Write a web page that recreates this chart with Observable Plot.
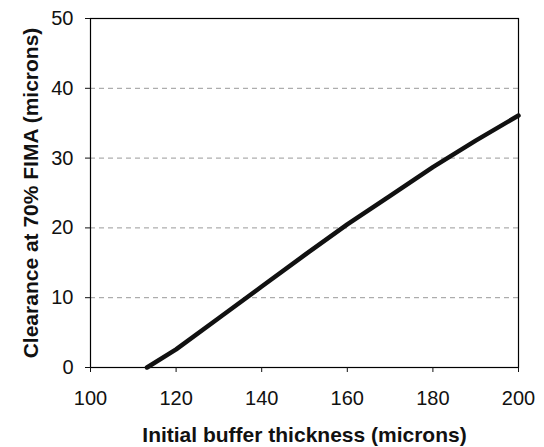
<!DOCTYPE html>
<html>
<head>
<meta charset="utf-8">
<script src="https://cdn.jsdelivr.net/npm/d3@7"></script>
<script src="https://cdn.jsdelivr.net/npm/@observablehq/plot@0.6"></script>
<style>
  html, body { margin: 0; padding: 0; background: #fff; }
</style>
</head>
<body>
<div id="chart"></div>
<script>
const bufferThickness = [113.2, 120, 130, 140, 150, 160, 170, 180, 190, 200];
const clearance = [0, 2.6, 7.1, 11.6, 16.1, 20.5, 24.6, 28.7, 32.5, 36.1];
const xTicks = [100, 120, 140, 160, 180, 200];
const yTicks = [0, 10, 20, 30, 40, 50];
const gridValues = [10, 20, 30, 40];

const data = bufferThickness.map((x, i) => ({x, y: clearance[i]}));

const chart = Plot.plot({
  width: 544,
  height: 447,
  marginLeft: 90,
  marginTop: 18,
  marginRight: 26,
  marginBottom: 80,
  style: {fontFamily: "Arial, 'Liberation Sans', sans-serif", fontSize: "20px", color: "#111", background: "#fff"},
  x: {domain: [100, 200]},
  y: {domain: [0, 50]},
  marks: [
    Plot.ruleY(gridValues, {stroke: "#999", strokeWidth: 1, strokeDasharray: "5,4"}),
    Plot.frame({stroke: "#000", strokeWidth: 1.2}),
    Plot.axisX({ticks: xTicks, tickSize: 5, tickPadding: 18, fontSize: 20,
      label: "Initial buffer thickness (microns)", labelAnchor: "center", labelArrow: "none", labelOffset: 74}),
    Plot.axisY({ticks: yTicks, tickSize: 5, tickPadding: 12, fontSize: 20,
      label: "Clearance at 70% FIMA (microns)", labelAnchor: "center", labelArrow: "none", labelOffset: 67}),
    Plot.line(data, {x: "x", y: "y", stroke: "#111", strokeWidth: 4.5, strokeLinejoin: "round"})
  ]
});
// bold axis titles
chart.querySelectorAll("g[aria-label='x-axis label'] text, g[aria-label='y-axis label'] text").forEach(t => {
  t.style.fontWeight = "bold";
  t.style.fontSize = "21px";
});
document.getElementById("chart").appendChild(chart);
</script>
</body>
</html>
